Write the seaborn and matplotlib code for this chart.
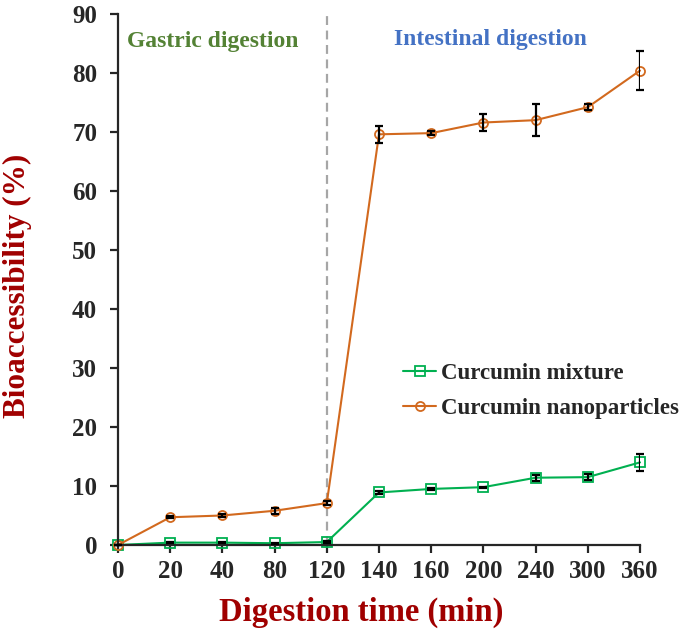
import numpy as np
import pandas as pd
import matplotlib
matplotlib.use("Agg")
import matplotlib.pyplot as plt
from matplotlib.lines import Line2D
import seaborn as sns

# Data
time_labels = ["0", "20", "40", "80", "120", "140", "160", "200", "240", "300", "360"]
mixture = [0.0, 0.4, 0.4, 0.3, 0.5, 8.9, 9.5, 9.8, 11.4, 11.5, 14.0]
mixture_err = [0.0, 0.1, 0.1, 0.1, 0.1, 0.3, 0.1, 0.1, 0.5, 0.5, 1.4]
nano = [0.0, 4.7, 5.0, 5.8, 7.1, 69.6, 69.8, 71.6, 72.0, 74.2, 80.4]
nano_err = [0.0, 0.2, 0.3, 0.5, 0.3, 1.45, 0.3, 1.45, 2.7, 0.5, 3.3]

pos = np.arange(len(time_labels))
df_mix = pd.DataFrame({"pos": pos, "value": mixture})
df_nano = pd.DataFrame({"pos": pos, "value": nano})

sns.set_style("ticks")
plt.rcParams["font.family"] = ["Liberation Serif", "DejaVu Serif"]
plt.rcParams["font.weight"] = "bold"

green = "#00B050"
orange = "#D2691E"
darkred = "#A00000"

fig = plt.figure(figsize=(6.84, 6.34), dpi=100)
ax = fig.add_axes([0.1725, 0.1404, 0.7632, 0.8376])

mk = dict(markersize=6.5, markerfacecolor="none", markeredgewidth=1.3, linewidth=1.5)
sns.lineplot(data=df_mix, x="pos", y="value", color=green, marker="s",
             markeredgecolor=green, ax=ax, **mk)
sns.lineplot(data=df_nano, x="pos", y="value", color=orange, marker="o",
             markeredgecolor=orange, ax=ax, **mk)

ax.errorbar(pos, mixture, yerr=mixture_err, fmt="none", ecolor="black",
            elinewidth=1.6, capsize=3, capthick=1.6, zorder=5)
ax.errorbar(pos, nano, yerr=nano_err, fmt="none", ecolor="black",
            elinewidth=1.6, capsize=3, capthick=1.6, zorder=5)

ax.axvline(4, color="#A6A6A6", linestyle=(0, (4, 2.5)), linewidth=1.6, zorder=1)

ax.set_xlim(0, 10)
ax.set_ylim(0, 90)
ax.set_xticks(pos)
ax.set_xticklabels(time_labels)
ax.set_yticks(np.arange(0, 91, 10))
ax.tick_params(axis="both", labelsize=18, width=1.6, length=6, direction="out")
ax.tick_params(axis="y", pad=9)
ax.tick_params(axis="x", pad=5)
for lbl in ax.get_xticklabels() + ax.get_yticklabels():
    lbl.set_fontweight("bold")
sns.despine(ax=ax)
for s in ["left", "bottom"]:
    ax.spines[s].set_linewidth(1.6)
for line in ax.lines:
    line.set_clip_on(False)

ax.set_xlabel("Digestion time (min)", fontsize=23.5, fontweight="bold",
              color=darkred, labelpad=10)
ax.xaxis.label.set_x(0.466)
ax.set_ylabel("Bioaccessibility (%)", fontsize=22.5, fontweight="bold",
              color=darkred)
ax.yaxis.set_label_coords(-0.165, 0.488)

ax.text(1.82, 85.3, "Gastric digestion", fontsize=17, fontweight="bold",
        color="#548235", ha="center", va="center")
ax.text(7.13, 85.6, "Intestinal digestion", fontsize=17, fontweight="bold",
        color="#4472C4", ha="center", va="center")

handles = [
    Line2D([], [], color=green, marker="s", markersize=6.5, markerfacecolor="none",
           markeredgewidth=1.3, linewidth=1.5),
    Line2D([], [], color=orange, marker="o", markersize=6.5, markerfacecolor="none",
           markeredgewidth=1.3, linewidth=1.5),
]
leg = ax.legend(handles, ["Curcumin mixture", "Curcumin nanoparticles"],
                loc="center left", bbox_to_anchor=(0.546, 0.29), frameon=False,
                fontsize=16.5, handlelength=1.45, handletextpad=0.2,
                labelspacing=0.6, borderaxespad=0, borderpad=0)
for t in leg.get_texts():
    t.set_fontweight("bold")

fig.savefig("out.png", dpi=100)
